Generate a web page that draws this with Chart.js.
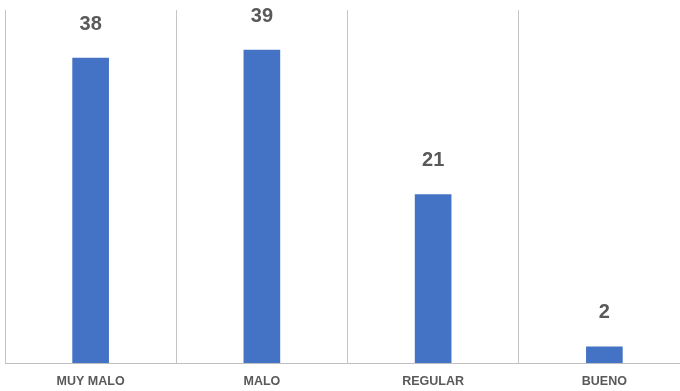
<!DOCTYPE html>
<html>
<head>
<meta charset="utf-8">
<script src="https://cdn.jsdelivr.net/npm/chart.js@4"></script>
<style>
  html, body { margin: 0; padding: 0; background: #fff; overflow: hidden; width: 680px; height: 391px; }
  #wrap { width: 720px; height: 403px; }
</style>
</head>
<body>
<div id="wrap"><canvas id="chart" width="720" height="403"></canvas></div>
<script>
const categories = ['MUY MALO', 'MALO', 'REGULAR', 'BUENO'];
const values = [38, 39, 21, 2];

// draws the number above each bar
const valueLabels = {
    id: 'valueLabels',
    afterDatasetsDraw(chart) {
        const ctx = chart.ctx;
        const meta = chart.getDatasetMeta(0);
        ctx.save();
        ctx.font = 'bold 20px "Liberation Sans", Arial, sans-serif';
        ctx.fillStyle = '#595959';
        ctx.textAlign = 'center';
        ctx.textBaseline = 'middle';
        meta.data.forEach(function (bar, i) {
            ctx.fillText(String(values[i]), bar.x, bar.y - 34);
        });
        ctx.restore();
    }
};

const ctx = document.getElementById('chart').getContext('2d');
new Chart(ctx, {
    type: 'bar',
    data: {
        labels: categories,
        datasets: [{
            data: values,
            backgroundColor: '#4472C4',
            barThickness: 36
        }]
    },
    options: {
        responsive: false,
        animation: false,
        layout: { padding: { left: 5, right: 30, top: 10, bottom: 3 } },
        plugins: {
            legend: { display: false },
            tooltip: { enabled: false }
        },
        scales: {
            x: {
                grid: {
                    offset: true,
                    color: '#c4c4c4',
                    lineWidth: 1,
                    drawTicks: false
                },
                border: { display: true, color: '#bfbfbf', width: 1 },
                ticks: {
                    padding: 11,
                    color: '#595959',
                    font: { family: '"Liberation Sans", Arial, sans-serif', size: 12.5, weight: 'bold' }
                }
            },
            y: {
                display: false,
                min: 0,
                max: 44
            }
        }
    },
    plugins: [valueLabels]
});
</script>
</body>
</html>
